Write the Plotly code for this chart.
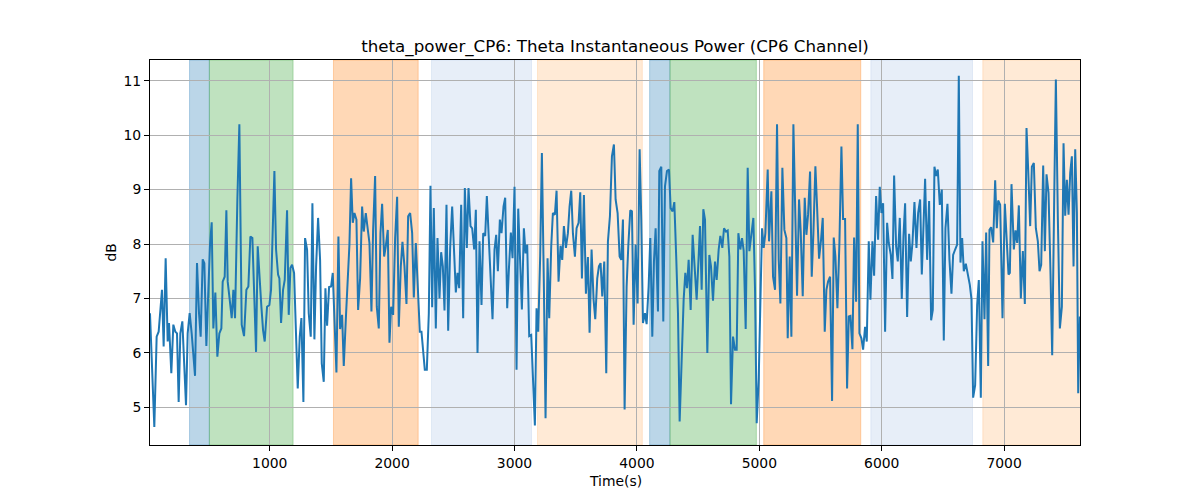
import plotly.graph_objects as go

# ---- data ----
time_s = [21.8, 57.3, 76.3, 92.7, 119.9, 133.5, 149.9, 166.3, 177.2, 185.3, 196.2, 212.6, 228.9, 242.6, 256.2, 269.8, 286.2, 316.1, 329.8, 346.1, 362.5, 389.7, 406.1, 422.4, 436.0, 452.4, 466.0, 482.4, 498.7, 512.3, 526.0, 539.6, 555.9, 572.3, 588.6, 605.0, 615.9, 632.2, 645.9, 656.8, 673.1, 689.5, 703.1, 716.7, 735.8, 752.1, 771.2, 790.3, 809.4, 825.7, 842.1, 858.4, 874.8, 888.4, 902.0, 918.4, 932.0, 945.6, 959.2, 978.3, 997.4, 1011.0, 1024.6, 1038.3, 1051.9, 1068.2, 1079.1, 1092.8, 1109.1, 1122.7, 1141.8, 1155.4, 1169.1, 1182.7, 1199.0, 1215.4, 1229.0, 1245.4, 1259.0,
          1275.3, 1288.9, 1305.3, 1318.9, 1335.3, 1348.9, 1365.2, 1378.9, 1395.2, 1411.6, 1425.2, 1441.5, 1455.2, 1468.8, 1485.1, 1501.5, 1515.1, 1528.7, 1545.1, 1561.4, 1575.1, 1591.4, 1605.0, 1624.1, 1640.5, 1651.3, 1665.0, 1678.6, 1692.2, 1708.6, 1722.2, 1738.6, 1754.9, 1768.5, 1784.9, 1798.5, 1814.9, 1831.2, 1844.8, 1861.2, 1874.8, 1891.2, 1904.8, 1918.4, 1934.8, 1948.4, 1964.7, 1978.4, 1992.0, 2008.3, 2024.7, 2041.0, 2054.7, 2071.0, 2084.6, 2101.0, 2117.3, 2131.0, 2147.3, 2163.7, 2177.3, 2193.6, 2210.0, 2226.3, 2239.9, 2250.9, 2267.2, 2283.6, 2299.9, 2313.5, 2327.2, 2340.8, 2357.1, 2370.8, 2387.1, 2400.7, 2414.4, 2428.0, 2444.3, 2458.0, 2474.3, 2490.7, 2504.3, 2520.6, 2534.3,
          2547.9, 2564.2, 2580.6, 2594.2, 2610.5, 2624.2, 2640.5, 2654.1, 2670.5, 2684.1, 2697.7, 2714.1, 2730.4, 2744.1, 2760.4, 2774.0, 2790.4, 2804.0, 2820.4, 2836.7, 2850.3, 2864.0, 2880.3, 2893.9, 2910.3, 2923.9, 2940.3, 2953.9, 2970.2, 2983.9, 3000.2, 3016.6, 3030.2, 3046.5, 3060.2, 3076.5, 3090.1, 3103.8, 3120.1, 3136.5, 3150.1, 3166.4, 3180.1, 3193.7, 3210.0, 3223.7, 3240.0, 3253.6, 3270.0, 3283.6, 3300.0, 3313.6, 3329.9, 3343.6, 3359.9, 3376.3, 3389.9, 3403.5, 3419.9, 3436.2, 3449.8, 3463.5, 3477.1, 3493.5, 3507.1, 3523.4, 3537.1, 3550.7, 3567.0, 3583.4, 3599.7, 3613.3, 3629.7, 3646.0, 3659.7, 3676.0, 3689.6, 3703.3, 3716.9, 3733.2, 3749.6, 3763.2, 3779.6, 3795.9, 3812.2,
          3826.0, 3842.3, 3858.7, 3872.3, 3885.9, 3899.5, 3915.9, 3929.5, 3945.9, 3959.5, 3973.1, 3989.5, 4005.8, 4022.2, 4035.8, 4049.4, 4065.8, 4079.4, 4095.7, 4109.4, 4125.7, 4139.3, 4153.0, 4172.0, 4182.9, 4199.3, 4215.6, 4229.3, 4245.6, 4262.0, 4275.6, 4291.9, 4305.6, 4321.9, 4335.5, 4349.2, 4368.2, 4381.9, 4395.5, 4409.1, 4422.7, 4439.1, 4455.4, 4471.8, 4488.1, 4504.5, 4515.4, 4529.0, 4542.6, 4556.3, 4575.3, 4591.7, 4605.3, 4621.7, 4638.0, 4651.6, 4668.0, 4681.6, 4698.0, 4711.6, 4727.9, 4741.6, 4755.2, 4768.8, 4785.2, 4801.5, 4815.1, 4828.8, 4845.1, 4858.7, 4872.4, 4888.7, 4905.1, 4918.7, 4935.0, 4951.4, 4965.0, 4978.6, 4995.0, 5008.6, 5022.2, 5035.9, 5049.5, 5068.6, 5079.5,
          5098.5, 5112.1, 5128.5, 5144.8, 5158.5, 5172.1, 5188.4, 5204.8, 5221.1, 5232.0, 5248.4, 5262.0, 5278.4, 5292.0, 5308.3, 5324.7, 5338.3, 5354.7, 5371.0, 5384.6, 5398.3, 5414.6, 5428.2, 5441.9, 5458.2, 5471.8, 5488.2, 5504.5, 5518.2, 5534.5, 5548.1, 5561.8, 5578.1, 5594.5, 5608.1, 5621.7, 5638.1, 5654.4, 5670.8, 5684.4, 5700.7, 5717.1, 5730.7, 5744.3, 5760.7, 5774.3, 5790.7, 5804.3, 5817.9, 5834.3, 5847.9, 5864.2, 5877.9, 5894.2, 5907.8, 5924.2, 5937.8, 5954.2, 5970.5, 5984.1, 5997.8, 6011.4, 6027.7, 6044.1, 6057.7, 6074.1, 6087.7, 6101.3, 6117.7, 6131.3, 6147.6, 6164.0, 6177.6, 6191.2, 6207.6, 6223.9, 6237.6, 6251.2, 6267.5, 6283.9, 6297.5, 6313.9, 6327.5,
          6354.6, 6371.0, 6387.3, 6403.7, 6417.3, 6430.9, 6444.5, 6458.2, 6474.5, 6490.9, 6507.2, 6520.8, 6537.2, 6553.5, 6569.9, 6583.5, 6599.9, 6616.2, 6629.8, 6643.5, 6657.1, 6670.7, 6687.1, 6703.4, 6719.8, 6733.4, 6747.0, 6763.4, 6779.7, 6793.3, 6809.7, 6823.3, 6839.7, 6853.3, 6869.6, 6880.5, 6894.2, 6910.5, 6926.9, 6940.5, 6951.4, 6967.7, 6986.8, 7005.9, 7022.2, 7035.9, 7046.8, 7060.4, 7079.5, 7093.1, 7106.7, 7120.3, 7136.7, 7153.0, 7169.4, 7183.0, 7196.6, 7213.0, 7226.6, 7242.9, 7259.3, 7275.6, 7289.3, 7302.9, 7319.3, 7332.9, 7346.5, 7362.9, 7379.2, 7392.8, 7409.2, 7422.8, 7439.2, 7455.5, 7471.9, 7485.5, 7499.1, 7512.7, 7526.4, 7540.0, 7553.6, 7567.2, 7580.9, 7594.5, 7605.4, 7619.0]

power_db = [6.73, 4.64, 6.30, 6.39, 7.16, 6.12, 7.74, 6.21, 6.55, 6.18, 5.63, 6.52, 6.39, 6.36, 5.10, 6.36, 6.58, 5.04, 6.36, 6.73, 6.36, 5.58, 7.65, 6.73, 6.30, 7.72, 7.65, 6.13, 7.34, 7.99, 8.40, 6.45, 7.11, 5.93, 6.36, 6.45, 7.31, 7.40, 8.62, 7.31, 6.98, 6.64, 7.16, 6.64, 8.82, 10.20, 6.52, 6.31, 7.16, 7.22, 8.14, 8.11, 6.98, 6.02, 7.96, 7.22, 6.85, 6.42, 6.21, 6.85, 6.88, 7.16, 8.08, 9.34, 7.90, 7.44, 7.37, 6.55, 7.16, 7.34, 8.62, 6.70, 7.56, 7.62, 7.47, 6.18, 5.35, 6.30, 6.64,
            5.10, 8.11, 7.90, 6.73, 6.30, 8.75, 6.25, 7.59, 8.48, 7.71, 5.81, 5.47, 7.19, 6.50, 7.21, 7.22, 7.47, 6.55, 5.64, 8.14, 6.44, 6.70, 5.76, 6.73, 7.68, 7.99, 9.21, 8.39, 8.57, 8.45, 6.79, 7.37, 8.69, 8.23, 8.57, 8.33, 8.02, 6.76, 8.26, 9.25, 6.85, 6.45, 8.20, 8.74, 7.77, 7.96, 8.26, 6.19, 6.85, 6.70, 8.11, 8.87, 6.48, 7.59, 8.04, 7.59, 6.90, 8.51, 8.57, 8.20, 7.02, 8.02, 7.10, 6.39, 6.39, 6.12, 5.69, 5.69, 6.73, 9.07, 6.84, 8.66, 6.45, 8.11, 7.00, 7.85, 7.59, 6.78, 8.72, 6.41, 7.93, 8.69, 7.83, 7.11, 7.47,
            7.19, 8.72, 6.64, 9.03, 7.93, 9.03, 8.33, 8.29, 7.90, 8.63, 6.00, 8.05, 6.88, 8.20, 8.15, 8.88, 8.14, 7.34, 6.62, 7.90, 8.17, 7.50, 8.45, 8.20, 8.69, 8.85, 6.82, 7.53, 8.21, 7.74, 9.05, 5.69, 8.65, 7.65, 6.80, 8.29, 7.83, 7.99, 6.31, 6.33, 5.50, 4.67, 6.82, 6.39, 7.80, 9.67, 7.22, 4.80, 7.74, 6.64, 7.96, 8.57, 8.54, 8.98, 7.31, 7.97, 7.71, 8.33, 7.93, 8.20, 8.69, 8.98, 8.20, 7.77, 8.29, 8.39, 8.95, 7.37, 8.90, 7.09, 7.76, 6.37, 7.90, 6.98, 6.62, 7.37, 7.59, 7.65, 7.04, 7.68, 5.63, 8.05, 8.51, 9.61, 9.83,
            8.82, 8.57, 7.77, 7.71, 8.45, 4.96, 7.22, 7.96, 8.62, 8.60, 6.52, 7.99, 6.91, 9.74, 8.45, 6.55, 6.73, 6.53, 7.22, 8.11, 6.30, 7.68, 8.29, 6.76, 9.34, 9.42, 6.58, 9.06, 9.34, 9.37, 8.66, 8.60, 8.77, 7.71, 6.73, 4.74, 6.15, 6.98, 7.47, 7.19, 7.71, 6.79, 8.17, 7.50, 6.98, 7.77, 8.33, 7.16, 8.64, 8.45, 6.00, 7.80, 7.59, 6.96, 7.68, 7.34, 7.90, 8.15, 7.93, 8.29, 8.23, 8.25, 7.77, 5.06, 6.30, 6.06, 6.06, 8.20, 7.90, 8.11, 7.88, 6.44, 9.40, 7.87, 8.20, 8.48, 7.16, 4.71, 5.52, 6.91, 8.29, 7.93, 8.20, 9.37, 8.05,
            8.97, 7.40, 7.16, 10.20, 7.72, 6.91, 9.40, 8.26, 8.11, 6.27, 7.77, 6.30, 10.20, 8.69, 7.05, 8.82, 8.23, 7.04, 8.85, 8.17, 8.54, 9.33, 7.40, 8.20, 9.43, 8.69, 7.73, 8.08, 8.48, 6.39, 7.16, 7.31, 7.40, 5.12, 8.12, 7.77, 6.82, 8.02, 9.79, 8.46, 8.46, 5.35, 6.67, 6.68, 6.07, 8.12, 6.94, 10.20, 6.36, 6.27, 6.06, 6.48, 6.21, 8.05, 6.98, 8.05, 7.42, 8.88, 8.08, 9.05, 8.57, 8.75, 6.39, 8.39, 8.02, 7.80, 7.36, 9.26, 7.96, 7.68, 8.48, 6.99, 8.14, 8.75, 6.66, 8.19, 7.68, 8.02, 8.77, 7.93, 8.57, 8.82, 7.44,
            9.20, 7.71, 8.79, 6.60, 6.79, 9.42, 9.25, 9.37, 8.72, 9.00, 6.23, 8.29, 8.74, 7.71, 7.09, 7.80, 7.90, 7.99, 11.09, 7.66, 8.11, 7.50, 7.64, 7.47, 7.25, 6.99, 5.18, 5.41, 6.88, 7.34, 5.18, 8.05, 6.62, 8.21, 5.76, 8.26, 8.31, 8.03, 9.17, 8.29, 8.80, 8.72, 6.64, 8.74, 8.11, 7.44, 7.47, 9.10, 7.90, 8.25, 8.02, 8.71, 7.00, 7.87, 6.90, 10.13, 9.37, 8.33, 9.42, 9.49, 8.29, 8.05, 7.50, 7.62, 9.44, 7.87, 9.28, 8.94, 7.44, 5.96, 8.82, 11.02, 8.45, 6.45, 6.85, 9.85, 8.52, 9.18, 8.54, 9.31, 9.61, 7.59, 9.74, 8.57, 5.26, 6.67]

# shaded segments: start, end, colour name
span_start = [345, 507, 1521, 2322, 3188, 4104, 4270, 5036, 5911, 6826]
span_end = [507, 1191, 2213, 3139, 4044, 4270, 4976, 5829, 6742, 7625]
span_color = ["#1f77b4", "#2ca02c", "#ff7f0e", "#aec7e8", "#ffbb78",
              "#1f77b4", "#2ca02c", "#ff7f0e", "#aec7e8", "#ffbb78"]

x_ticks = [1000, 2000, 3000, 4000, 5000, 6000, 7000]
y_ticks = [5, 6, 7, 8, 9, 10, 11]

title_text = "theta_power_CP6: Theta Instantaneous Power (CP6 Channel)"
x_label = "Time(s)"
y_label = "dB"


def rgba(hex_color, a):
    h = hex_color.lstrip("#")
    r, g, b = int(h[0:2], 16), int(h[2:4], 16), int(h[4:6], 16)
    return f"rgba({r},{g},{b},{a})"


fig = go.Figure()

shapes = []
for s, e, c in zip(span_start, span_end, span_color):
    shapes.append(dict(type="rect", xref="x", yref="paper", x0=s, x1=e, y0=0, y1=1,
                       fillcolor=rgba(c, 0.3), line=dict(color=rgba(c, 0.3), width=1),
                       layer="below"))

fig.add_trace(go.Scatter(x=time_s, y=power_db, mode="lines",
                         line=dict(color="#1f77b4", width=2), showlegend=False))

font_family = "DejaVu Sans"
fig.update_layout(
    width=1200, height=500,
    margin=dict(l=150, r=120, t=60, b=55),
    paper_bgcolor="white", plot_bgcolor="white",
    font=dict(family=font_family, color="black", size=13.9),
    shapes=shapes,
    title=dict(text=title_text, x=0.5, xref="paper", xanchor="center",
               y=1 - 46 / 500, yref="container", yanchor="middle",
               font=dict(size=16.7, family=font_family, color="black")),
    annotations=[
        dict(text=x_label, x=0.5, xref="paper", y=-(481 - 445) / 385, yref="paper",
             xanchor="center", yanchor="middle", showarrow=False,
             font=dict(size=13.9, family=font_family, color="black")),
        dict(text=y_label, x=-(150 - 110) / 930, xref="paper", y=0.5, yref="paper",
             xanchor="center", yanchor="middle", showarrow=False, textangle=-90,
             font=dict(size=13.9, family=font_family, color="black")),
    ],
)

fig.update_xaxes(range=[22, 7620], tickvals=x_ticks, ticks="outside", ticklen=5,
                 tickwidth=1, tickcolor="black", showgrid=True, gridcolor="#b0b0b0",
                 gridwidth=1, showline=True, linecolor="black", linewidth=1, mirror=True,
                 zeroline=False, tickfont=dict(size=13.9))
fig.update_yaxes(range=[4.31, 11.38], tickvals=y_ticks, ticks="outside", ticklen=5,
                 tickwidth=1, tickcolor="black", showgrid=True, gridcolor="#b0b0b0",
                 gridwidth=1, showline=True, linecolor="black", linewidth=1, mirror=True,
                 zeroline=False, tickfont=dict(size=13.9))

fig.write_html("out.html")
